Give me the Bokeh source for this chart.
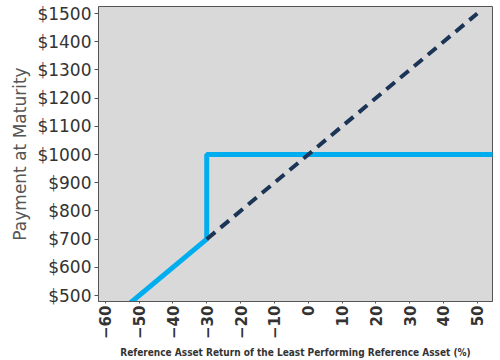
import math
from bokeh.plotting import figure
from bokeh.models import Range1d, FixedTicker, PrintfTickFormatter
from bokeh.embed import file_html
from bokeh.resources import INLINE

# Data
note_x = [-60, -30, -30, 55]
note_y = [400, 700, 1000, 1000]
asset_x = [-30, 50]
asset_y = [700, 1500]
x_ticks = [-60, -50, -40, -30, -20, -10, 0, 10, 20, 30, 40, 50]
y_ticks = [500, 600, 700, 800, 900, 1000, 1100, 1200, 1300, 1400, 1500]

p = figure(width=500, height=360, output_backend="svg", toolbar_location=None,
           x_range=Range1d(-62, 54.5), y_range=Range1d(479, 1525),
           min_border_left=98, min_border_right=8, min_border_top=6, min_border_bottom=58)
p.background_fill_color = "#d9d9d9"
p.border_fill_color = "white"
p.outline_line_color = "#555555"
p.outline_line_width = 1
p.xgrid.visible = False
p.ygrid.visible = False

p.line(note_x, note_y, line_color="#00aeef", line_width=5)
p.line(asset_x, asset_y, line_color="#1c3557", line_width=4, line_dash="11 7")

p.xaxis.ticker = FixedTicker(ticks=x_ticks)
p.yaxis.ticker = FixedTicker(ticks=y_ticks)
p.yaxis.formatter = PrintfTickFormatter(format="$%d")
p.xaxis.major_label_orientation = math.pi / 2

for ax in (p.xaxis[0], p.yaxis[0]):
    ax.axis_line_color = "#555555"
    ax.major_tick_line_color = "#555555"
    ax.major_tick_in = 0
    ax.minor_tick_line_color = None
    ax.major_label_text_font = "DejaVu Sans"
    ax.major_label_text_color = "#333333"

p.yaxis.major_tick_out = 4
p.yaxis.major_label_standoff = 3
p.yaxis.major_label_text_font_size = "17px"

p.xaxis.major_tick_out = 2
p.xaxis.major_label_standoff = 2
p.xaxis.major_label_text_font_size = "15px"
p.xaxis.major_label_text_font_style = "bold"

p.xaxis.axis_label = "Reference Asset Return of the Least Performing Reference Asset (%)"
p.xaxis.axis_label_text_font = "DejaVu Sans Condensed"
p.xaxis.axis_label_text_font_style = "bold"
p.xaxis.axis_label_text_font_size = "10px"
p.xaxis.axis_label_text_color = "#333333"
p.xaxis.axis_label_standoff = 5

p.yaxis.axis_label = "Payment at Maturity"
p.yaxis.axis_label_text_font = "DejaVu Sans"
p.yaxis.axis_label_text_font_style = "normal"
p.yaxis.axis_label_text_font_size = "17px"
p.yaxis.axis_label_text_color = "#555555"
p.yaxis.axis_label_standoff = 4

open("out.html", "w").write(file_html(p, INLINE))
